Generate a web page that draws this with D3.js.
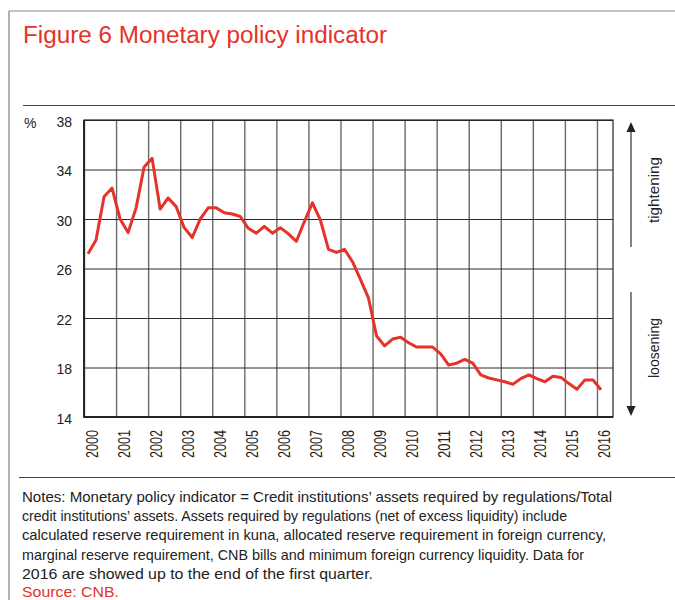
<!DOCTYPE html>
<html><head><meta charset="utf-8">
<script src="https://cdn.jsdelivr.net/npm/d3@7"></script>
<style>
body{margin:0;background:#fff}
svg{display:block}
text{font-family:"Liberation Sans",Arial,Helvetica,sans-serif}
</style>
</head><body>
<svg id="c" width="675" height="600"></svg>
<script>
const quarters = [
"2000Q1","2000Q2","2000Q3","2000Q4","2001Q1","2001Q2","2001Q3","2001Q4",
"2002Q1","2002Q2","2002Q3","2002Q4","2003Q1","2003Q2","2003Q3","2003Q4",
"2004Q1","2004Q2","2004Q3","2004Q4","2005Q1","2005Q2","2005Q3","2005Q4",
"2006Q1","2006Q2","2006Q3","2006Q4","2007Q1","2007Q2","2007Q3","2007Q4",
"2008Q1","2008Q2","2008Q3","2008Q4","2009Q1","2009Q2","2009Q3","2009Q4",
"2010Q1","2010Q2","2010Q3","2010Q4","2011Q1","2011Q2","2011Q3","2011Q4",
"2012Q1","2012Q2","2012Q3","2012Q4","2013Q1","2013Q2","2013Q3","2013Q4",
"2014Q1","2014Q2","2014Q3","2014Q4","2015Q1","2015Q2","2015Q3","2015Q4",
"2016Q1"];
const indicator = [
27.2,28.3,31.8,32.5, 30.0,28.9,30.9,34.2,
34.9,30.8,31.7,31.0, 29.3,28.5,30.0,30.9,
30.9,30.5,30.4,30.2, 29.25,28.85,29.4,28.85,
29.3,28.8,28.2,29.8, 31.3,29.9,27.55,27.3,
27.55,26.55,25.1,23.6, 20.55,19.75,20.3,20.45,
20.0,19.65,19.65,19.65, 19.1,18.2,18.35,18.65,
18.35,17.4,17.15,17.0, 16.85,16.65,17.1,17.4,
17.1,16.85,17.3,17.2, 16.7,16.25,17.0,17.0,
16.2];
const yearTicks = [2000,2001,2002,2003,2004,2005,2006,2007,2008,2009,2010,2011,2012,2013,2014,2015,2016];
const yTicks = [14,18,22,26,30,34,38];
const titleText = "Figure 6 Monetary policy indicator";
const unitText = "%";
const upLabel = "tightening";
const downLabel = "loosening";
const noteLines = [
"Notes: Monetary policy indicator = Credit institutions\u2019 assets required by regulations/Total",
"credit institutions\u2019 assets. Assets required by regulations (net of excess liquidity) include",
"calculated reserve requirement in kuna, allocated reserve requirement in foreign currency,",
"marginal reserve requirement, CNB bills and minimum foreign currency liquidity. Data for",
"2016 are showed up to the end of the first quarter."];
const sourceText = "Source: CNB.";

const RED = "#e5332a";
const svg = d3.select("#c");
const L = 84, R = 613, T = 120, B = 417;

const x = d3.scaleLinear().domain([2000, 2016.5]).range([L, R]);
const y = d3.scaleLinear().domain([14, 38]).range([B, T]);
const qTime = q => +q.slice(0,4) + (+q.slice(5) - 1) / 4 + 0.125;

// frame
svg.append("line").attr("x1",9).attr("x2",675).attr("y1",11).attr("y2",11).attr("stroke","#8a8a8a").attr("stroke-width",1.2);
svg.append("line").attr("x1",9).attr("x2",9).attr("y1",11).attr("y2",600).attr("stroke","#9a9a9a").attr("stroke-width",1.5);
svg.append("line").attr("x1",23).attr("x2",675).attr("y1",105.5).attr("y2",105.5).attr("stroke","#444").attr("stroke-width",1);
svg.append("line").attr("x1",19).attr("x2",675).attr("y1",477.5).attr("y2",477.5).attr("stroke","#444").attr("stroke-width",1);

// title
svg.append("text").attr("x",23).attr("y",43).attr("fill",RED).attr("font-size",23)
  .attr("textLength",364).attr("lengthAdjust","spacingAndGlyphs").text(titleText);

// vertical gridlines
const gx = svg.append("g").attr("transform",`translate(0,${B})`)
  .call(d3.axisBottom(x).tickValues(yearTicks).tickSize(-(B-T)).tickFormat(""));
gx.select(".domain").remove();
gx.selectAll(".tick line").attr("stroke","#6a6a6a").attr("stroke-width",1.4);

// horizontal gridlines + labels
const gy = svg.append("g").attr("transform",`translate(${L},0)`)
  .call(d3.axisLeft(y).tickValues(yTicks).tickSize(-(R-L)).tickPadding(12));
gy.select(".domain").remove();
gy.selectAll(".tick line").attr("stroke","#2a2a2a").attr("stroke-width",1);
gy.selectAll(".tick text").attr("font-size",14).attr("fill","#222")
  .attr("font-family","Liberation Sans, Arial, sans-serif").attr("dy","0.45em");

// plot border
svg.append("rect").attr("x",L).attr("y",T).attr("width",R-L).attr("height",B-T)
  .attr("fill","none").attr("stroke","#222").attr("stroke-width",1.2);
svg.append("line").attr("x1",L).attr("x2",L).attr("y1",T).attr("y2",B+0.8).attr("stroke","#222").attr("stroke-width",1.8);
svg.append("line").attr("x1",L).attr("x2",R).attr("y1",B).attr("y2",B).attr("stroke","#222").attr("stroke-width",1.8);

// year labels
svg.append("g").selectAll("text").data(yearTicks).join("text")
  .attr("transform", d => `translate(${x(d)+13.5},430) rotate(-90)`)
  .attr("text-anchor","end").attr("font-size",17).attr("fill","#222")
  .attr("textLength",28).attr("lengthAdjust","spacingAndGlyphs")
  .text(d => d);

// unit
svg.append("text").attr("x",24).attr("y",128).attr("font-size",14).attr("fill","#222").text(unitText);

// line
const pts = quarters.map((q,i) => ({t: qTime(q), v: indicator[i]}));
svg.append("path").datum(pts)
  .attr("fill","none").attr("stroke",RED).attr("stroke-width",3).attr("stroke-linejoin","round")
  .attr("d", d3.line().x(d => x(d.t)).y(d => y(d.v)));

// arrows
const AX = 631;
svg.append("line").attr("x1",AX).attr("x2",AX).attr("y1",130).attr("y2",247).attr("stroke","#333").attr("stroke-width",1.2);
svg.append("path").attr("d",`M${AX},122 L${AX-4.5},132 L${AX+4.5},132 Z`).attr("fill","#222");
svg.append("line").attr("x1",AX).attr("x2",AX).attr("y1",292).attr("y2",408).attr("stroke","#333").attr("stroke-width",1.2);
svg.append("path").attr("d",`M${AX},416 L${AX-4.5},406 L${AX+4.5},406 Z`).attr("fill","#222");

svg.append("text").attr("transform","translate(659,190) rotate(-90)").attr("text-anchor","middle")
  .attr("font-size",15).attr("fill","#222").attr("textLength",66).attr("lengthAdjust","spacingAndGlyphs").text(upLabel);
svg.append("text").attr("transform","translate(659,348) rotate(-90)").attr("text-anchor","middle")
  .attr("font-size",15).attr("fill","#222").attr("textLength",60).attr("lengthAdjust","spacingAndGlyphs").text(downLabel);

// notes
const noteEnds = [612, 567, 606, 584, 373];
svg.append("g").selectAll("text").data(noteLines).join("text")
  .attr("x",22).attr("y",(d,i) => 502 + i*19.2).attr("font-size",15).attr("fill","#222")
  .attr("textLength",(d,i) => noteEnds[i]-22).attr("lengthAdjust","spacingAndGlyphs")
  .text(d => d);
svg.append("text").attr("x",22).attr("y",597).attr("font-size",15).attr("fill",RED)
  .attr("textLength",97).attr("lengthAdjust","spacingAndGlyphs").text(sourceText);
</script>
</body></html>
